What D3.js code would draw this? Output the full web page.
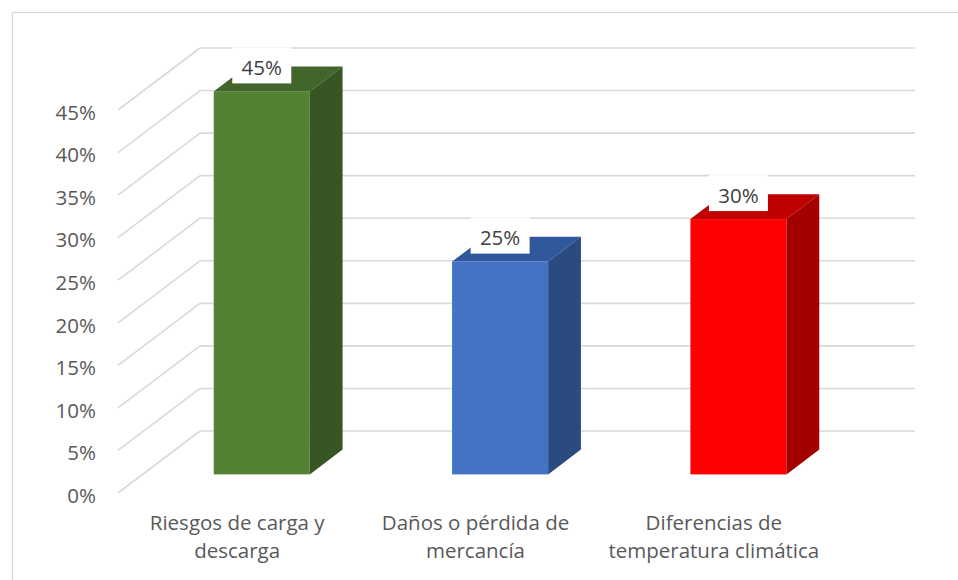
<!DOCTYPE html>
<html><head><meta charset="utf-8">
<script src="https://cdn.jsdelivr.net/npm/d3@7/dist/d3.min.js"></script>
<style>
html,body{margin:0;padding:0;background:#fff;overflow:hidden}
text{font-family:"Open Sans",sans-serif}
</style></head>
<body>
<svg id="chart" width="958" height="580"></svg>
<script>
const categories = [["Riesgos de carga y","descarga"],["Daños o pérdida de","mercancía"],["Diferencias de","temperatura climática"]];
const values = [45, 25, 30];
const tickValues = [0,5,10,15,20,25,30,35,40,45];
const frontColors = ["#548235","#4472c4","#ff0000"];
const topColors = ["#41652a","#30589c","#c00000"];
const sideColors = ["#375623","#2a4a80","#a30000"];

const svg = d3.select("#chart");
const W = 958, H = 580;
const depthX = 82, depthY = 62;   // oblique depth vector
const barD0 = 0.3, barD1 = 0.7;   // bar depth range (fraction)

svg.append("rect").attr("x",12.5).attr("y",12.5).attr("width",1200).attr("height",1200)
  .attr("fill","none").attr("stroke","#d9d9d9").attr("stroke-width",1.3);

const y = d3.scaleLinear().domain([0,45]).range([493,110]);
const keys = categories.map((c,i)=>"c"+i);
const x = d3.scaleBand().domain(keys).range([118,833]).paddingInner(0.597).paddingOuter(0.2985);

const grid = svg.append("g").attr("stroke","#d9d9d9").attr("stroke-width",1.6).attr("fill","none");
tickValues.forEach(v=>{
  grid.append("line").attr("x1",118).attr("y1",y(v)).attr("x2",118+depthX).attr("y2",y(v)-depthY);
  grid.append("line").attr("x1",118+depthX).attr("y1",y(v)-depthY).attr("x2",833+depthX).attr("y2",y(v)-depthY);
});

// axis labels
const axis = d3.axisLeft(y).tickValues(tickValues).tickFormat(d=>d+"%").tickSize(0).tickPadding(22);
const ag = svg.append("g").attr("transform","translate(118,0)").call(axis);
ag.select(".domain").remove();
ag.selectAll("text").attr("font-family","Open Sans").attr("font-size","20.5px").attr("fill","#595959").attr("dy","0.45em");

// bars
const bw = x.bandwidth();
const bdx = (barD1-barD0)*depthX, bdy = (barD1-barD0)*depthY;
const bars = svg.append("g");
values.forEach((v,i)=>{
  const x0 = x(keys[i]) + barD0*depthX;
  const top = y(v) - barD0*depthY;
  const bot = y(0) - barD0*depthY;
  const g = bars.append("g");
  g.append("rect").attr("x",x0).attr("y",top).attr("width",bw).attr("height",bot-top).attr("fill",frontColors[i]);
  g.append("polygon").attr("points",[[x0,top],[x0+bw,top],[x0+bw+bdx,top-bdy],[x0+bdx,top-bdy]].map(p=>p.join(",")).join(" ")).attr("fill",topColors[i]);
  g.append("polygon").attr("points",[[x0+bw,top],[x0+bw+bdx,top-bdy],[x0+bw+bdx,bot-bdy],[x0+bw,bot]].map(p=>p.join(",")).join(" ")).attr("fill",sideColors[i]);
  // data label
  const cx = x0 + bw/2;
  const bb = top - 8;
  g.append("rect").attr("x",cx-29.5).attr("y",bb-36).attr("width",59).attr("height",36).attr("fill","#fff");
  g.append("text").attr("x",cx).attr("y",bb-8.5).attr("text-anchor","middle")
    .attr("font-size","20.5px").attr("fill","#404040").text(v+"%");
});

// category labels
categories.forEach((lines,i)=>{
  const cx = x(keys[i]) + bw/2;
  const t = svg.append("text").attr("text-anchor","middle").attr("font-size","20.5px").attr("fill","#595959");
  lines.forEach((l,j)=>{
    t.append("tspan").attr("x",cx).attr("y",530 + j*27.5).text(l);
  });
});
</script>
</body></html>
